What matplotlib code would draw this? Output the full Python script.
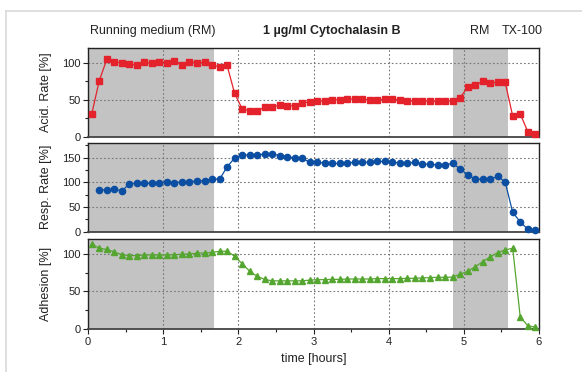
import numpy as np
import matplotlib
matplotlib.use("Agg")
import matplotlib.pyplot as plt
from matplotlib.ticker import MultipleLocator
from matplotlib.lines import Line2D

plt.rcParams['font.family'] = ['Liberation Sans', 'DejaVu Sans']

# ---- data ----
acid_t = [round(0.05 + 0.1 * i, 2) for i in range(60)]
acid = [31, 76, 105, 102, 100, 99, 97, 101, 99.5, 102, 100, 103, 98, 102, 100, 101,
        97, 95, 97, 59, 38, 35, 35, 40, 40, 43,
        42, 42, 46, 47, 49, 48, 50, 50, 51, 51, 51, 50, 50, 51, 51, 50, 48, 49, 49,
        48, 48, 48, 49, 53, 67, 70, 75, 73, 74, 74, 28, 31, 7, 3]

resp_t = [round(0.15 + 0.1 * i, 2) for i in range(59)]
resp = [85, 84.5, 86.5, 82, 97, 98, 98, 98, 99, 100, 99, 100.7, 101, 103, 103, 107,
        106, 131, 149, 155, 155, 155, 157, 157, 154,
        152, 149, 149, 140, 141, 138.5, 138, 138, 139, 140.5, 140, 140.5, 142, 142,
        140.5, 139, 138.5, 140.5, 136.5, 136.5, 135, 135, 138.5, 127, 115.5, 106,
        106, 106, 112, 100.7, 39, 20, 5, 3.4]

adh_t = [round(0.05 + 0.1 * i, 2) for i in range(60)]
adh = [113, 107.6, 106, 102.7, 99, 97.8, 97.8, 98.7, 98.7, 98.7, 98.7, 99, 99.5, 100,
       101, 101.3, 102, 103.6, 103.6, 97, 87, 77, 70, 66, 64, 64,
       64, 64, 64, 65, 65.6, 65.6, 66, 66, 66.5, 66.5, 66.5, 66.5, 67, 67, 67, 67,
       67.4, 67.4, 68, 68.3, 68.8, 68.8, 69, 72.8, 76.8, 82.6, 89.7, 96, 101.8,
       105.4, 107.6, 16, 4, 2]

shade_spans = [(0.0, 1.68), (4.85, 5.59)]
ylabels = ["Acid. Rate [%]", "Resp. Rate [%]", "Adhesion [%]"]
ylims = [120, 180, 120]
phase_labels = ["Running medium (RM)", "1 \u00b5g/ml Cytochalasin B", "RM", "TX-100"]
phase_x = [0.86, 3.24, 5.21, 5.77]

# ---- figure ----
W, H = 582, 372
fig = plt.figure(figsize=(W / 100, H / 100), dpi=100)

# light frame
fig.add_artist(Line2D([6 / W, 1], [1 - 11 / H, 1 - 11 / H], color='#d9d9d9', lw=1.2,
                      transform=fig.transFigure))
fig.add_artist(Line2D([6 / W, 6 / W], [0, 1 - 11 / H], color='#d9d9d9', lw=1.2,
                      transform=fig.transFigure))

left = 88 / W
width = 451 / W
boxes = [(48.3, 136.7), (142.7, 231.7), (239.0, 328.7)]

series = [
    (acid_t, acid, '#e3222b', 's', 3.9),
    (resp_t, resp, '#0b4ea2', 'o', 4.5),
    (adh_t, adh, '#55a630', '^', 4.9),
]

axes = []
for i, ((top, bot), (t, v, c, m, ms)) in enumerate(zip(boxes, series)):
    ax = fig.add_axes([left, 1 - bot / H, width, (bot - top) / H])
    axes.append(ax)
    for a, b in shade_spans:
        ax.axvspan(a, b, color='#c3c3c3', lw=0, zorder=0)
    ax.plot(t, v, color=c, marker=m, ms=ms, lw=0.9, zorder=3, clip_on=False)
    ax.set_xlim(0, 6)
    ax.set_ylim(0, ylims[i])
    ax.yaxis.set_major_locator(MultipleLocator(50))
    ax.yaxis.set_minor_locator(MultipleLocator(25))
    ax.xaxis.set_major_locator(MultipleLocator(1))
    ax.xaxis.set_minor_locator(MultipleLocator(0.5))
    ax.grid(True, which='major', color='#777777', ls=(0, (1.5, 2)), lw=0.8)
    ax.set_axisbelow(True)
    ax.tick_params(axis='y', which='both', direction='out', labelsize=8, length=3.5,
                   width=0.8, pad=2, colors='#222222')
    ax.tick_params(axis='y', which='minor', length=2.5)
    ax.set_ylabel(ylabels[i], fontsize=9, color='#222222')
    for s in ax.spines.values():
        s.set_linewidth(1.0)
        s.set_color('#222222')
    ax.spines['bottom'].set_linewidth(1.3)
    ax.spines['bottom'].set_color('#444444')
    if i < 2:
        ax.tick_params(axis='x', which='both', bottom=False, labelbottom=False)
    else:
        ax.tick_params(axis='x', which='both', direction='out', labelsize=8, length=3.5,
                       width=0.8, pad=2.5, colors='#222222')
        ax.tick_params(axis='x', which='minor', length=2.5)
        ax.set_xlabel("time [hours]", fontsize=9, labelpad=4, color='#222222')

# align ylabels
for ax in axes:
    ax.yaxis.set_label_coords((52 - 88) / 451, 0.5)

ax0 = axes[0]
for j, (lbl, x) in enumerate(zip(phase_labels, phase_x)):
    ax0.text(x, 1 + (48.3 - 31) / (136.7 - 48.3), lbl,
             transform=ax0.get_xaxis_transform(),
             ha='center', va='center', fontsize=9,
             fontweight='bold' if j == 1 else 'normal', color='#222222')

fig.savefig("out.png", dpi=100)
